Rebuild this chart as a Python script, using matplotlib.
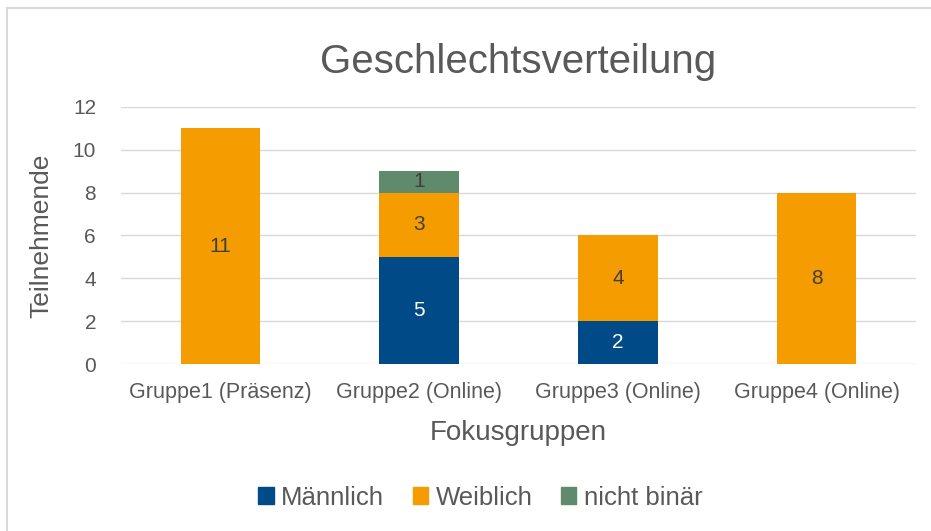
import matplotlib
matplotlib.use("Agg")
import matplotlib.pyplot as plt
import numpy as np
from matplotlib.lines import Line2D

categories = ["Gruppe1 (Präsenz)", "Gruppe2 (Online)", "Gruppe3 (Online)", "Gruppe4 (Online)"]
maennlich = [0, 5, 2, 0]
weiblich = [11, 3, 4, 8]
nicht_binaer = [0, 1, 0, 0]
series_names = ["Männlich", "Weiblich", "nicht binär"]
colors = ["#004A87", "#F59C00", "#5F8A6B"]
label_colors = ["white", "#404040", "#404040"]
yticks = [0, 2, 4, 6, 8, 10, 12]

plt.rcParams['font.family'] = ['Liberation Sans', 'DejaVu Sans']
txt = "#595959"

fig = plt.figure(figsize=(9.31, 5.31), dpi=100)
ax = fig.add_axes([0.130, 0.3145, 0.854, 0.484])

x = np.arange(len(categories))
w = 0.40
bottom = np.zeros(len(categories))
for vals, name, c, lc in zip([maennlich, weiblich, nicht_binaer], series_names, colors, label_colors):
    vals = np.array(vals, dtype=float)
    ax.bar(x, vals, w, bottom=bottom, color=c, label=name, zorder=3)
    for xi, v, b in zip(x, vals, bottom):
        if v > 0:
            ax.text(xi, b + v / 2, f"{int(v)}", ha="center", va="center",
                    fontsize=15, color=lc, zorder=4)
    bottom += vals

ax.set_ylim(0, 12)
ax.set_xlim(-0.5, len(categories) - 0.5)
ax.set_yticks(yticks)
ax.set_yticklabels([str(t) for t in yticks], fontsize=15, color=txt)
ax.set_xticks(x)
ax.set_xticklabels(categories, fontsize=15.5, color=txt)
ax.tick_params(axis="x", length=0, pad=13)
ax.tick_params(axis="y", length=0, pad=18)
ax.grid(axis="y", color="#D9D9D9", linewidth=1, zorder=0)
for s in ax.spines.values():
    s.set_visible(False)

ax.set_xlabel("Fokusgruppen", fontsize=20, color=txt, labelpad=12)
ax.set_ylabel("Teilnehmende", fontsize=19, color=txt, labelpad=14)
fig.text(0.556, 0.883, "Geschlechtsverteilung", ha="center", va="center",
         fontsize=29, color=txt)

handles = [plt.Rectangle((0, 0), 1, 1, color=c) for c in colors]
fig.legend(handles, series_names, loc="center", bbox_to_anchor=(0.516, 0.063),
           ncol=3, frameon=False, fontsize=18.5, labelcolor=txt,
           handlelength=0.6, handleheight=0.6, handletextpad=0.3, columnspacing=1.1)

# figure frame (light gray top/left edges)
fig.add_artist(Line2D([0.008, 0.008], [0, 0.985], transform=fig.transFigure, color="#D9D9D9", lw=1.5))
fig.add_artist(Line2D([0.008, 1.0], [0.985, 0.985], transform=fig.transFigure, color="#D9D9D9", lw=1.5))

fig.savefig("out.png", dpi=100, facecolor="white")
